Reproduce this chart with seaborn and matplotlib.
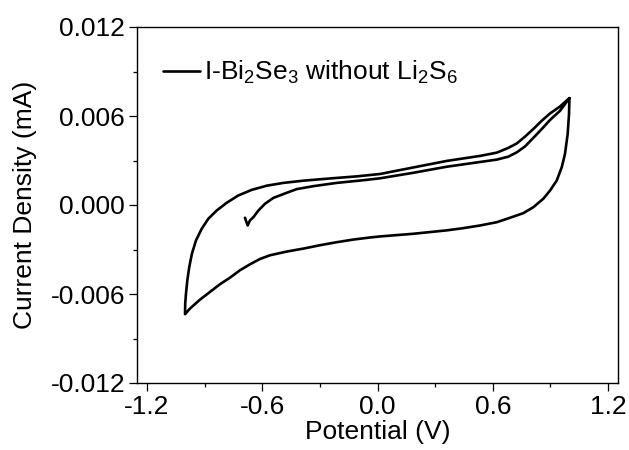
import numpy as np
import pandas as pd
import matplotlib
matplotlib.use("Agg")
import matplotlib.pyplot as plt
import seaborn as sns

# ---- data (Potential in V, Current density in mA) ----
# first anodic sweep (from start point to upper vertex)
sweep1_v = [-0.690, -0.676, -0.664, -0.646, -0.620, -0.586, -0.542, -0.473, -0.421,
            -0.334, -0.213, -0.074, 0.013, 0.186, 0.360, 0.534, 0.621, 0.681, 0.725,
            0.768, 0.811, 0.855, 0.898, 0.950, 0.999]
sweep1_i = [-0.00086, -0.00138, -0.00104, -0.00082, -0.00037, 0.00008, 0.00048, 0.00082, 0.00107,
            0.00127, 0.00149, 0.00167, 0.00180, 0.00217, 0.00258, 0.00290, 0.00306, 0.00326, 0.00355,
            0.00395, 0.00452, 0.00512, 0.00573, 0.00635, 0.00720]
# cathodic sweep (upper vertex to lower vertex)
sweep2_v = [0.997, 0.990, 0.976, 0.959, 0.933, 0.898, 0.863, 0.811, 0.759, 0.690, 0.621,
            0.534, 0.447, 0.360, 0.186, 0.013, -0.039, -0.126, -0.213, -0.299, -0.386,
            -0.473, -0.560, -0.612, -0.664, -0.716, -0.768, -0.820, -0.872, -0.924, -0.976, -1.002]
sweep2_i = [0.00613, 0.00479, 0.00344, 0.00254, 0.00165, 0.00097, 0.00042, -0.00015, -0.00055,
            -0.00086, -0.00116, -0.00138, -0.00156, -0.00171, -0.00194, -0.00212, -0.00219,
            -0.00233, -0.00251, -0.00271, -0.00294, -0.00314, -0.00339, -0.00364, -0.00400,
            -0.00440, -0.00490, -0.00534, -0.00586, -0.00638, -0.00698, -0.00736]
# second anodic sweep (lower vertex back to upper vertex)
sweep3_v = [-1.001, -0.997, -0.990, -0.980, -0.966, -0.945, -0.915, -0.881, -0.837, -0.785,
            -0.725, -0.655, -0.577, -0.490, -0.386, -0.247, -0.108, 0.013, 0.186, 0.360,
            0.534, 0.621, 0.681, 0.725, 0.768, 0.811, 0.855, 0.898, 0.950, 0.999]
sweep3_i = [-0.00664, -0.00597, -0.00508, -0.00418, -0.00328, -0.00239, -0.00160, -0.00093,
            -0.00037, 0.00015, 0.00064, 0.00102, 0.00130, 0.00149, 0.00164, 0.00179, 0.00193,
            0.00209, 0.00253, 0.00297, 0.00331, 0.00353, 0.00385, 0.00415, 0.00461, 0.00512,
            0.00568, 0.00617, 0.00664, 0.00721]

x_ticks = [-1.2, -0.6, 0.0, 0.6, 1.2]
x_tick_labels = ["-1.2", "-0.6", "0.0", "0.6", "1.2"]
y_ticks = [-0.012, -0.006, 0.0, 0.006, 0.012]
y_tick_labels = ["-0.012", "-0.006", "0.000", "0.006", "0.012"]
series_label = r"I-Bi$_2$Se$_3$ without Li$_2$S$_6$"

potential = sweep1_v + sweep2_v + sweep3_v
current = sweep1_i + sweep2_i + sweep3_i
df = pd.DataFrame({"Potential": potential, "Current": current,
                   "order": np.arange(len(potential)), "series": series_label})

sns.set_style("ticks")
plt.rcParams["font.family"] = ["Liberation Sans", "DejaVu Sans"]
plt.rcParams["mathtext.fontset"] = "custom"
plt.rcParams["mathtext.rm"] = "Liberation Sans"
plt.rcParams["mathtext.it"] = "Liberation Sans"
plt.rcParams["mathtext.bf"] = "Liberation Sans"
for k in ["text.color", "axes.labelcolor", "xtick.color", "ytick.color", "axes.edgecolor"]:
    plt.rcParams[k] = "black"

fig = plt.figure(figsize=(6.29, 4.5), dpi=100)
ax = fig.add_axes([137 / 629, 1 - 383 / 450, 481 / 629, 356 / 450])

sns.lineplot(data=df, x="Potential", y="Current", hue="series", sort=False,
             estimator=None, palette=["black"], linewidth=1.9, ax=ax)
ax.lines[0].set_solid_joinstyle("round")

ax.set_xlim(-1.252, 1.252)
ax.set_ylim(-0.012, 0.012)
ax.set_xticks(x_ticks)
ax.set_xticklabels(x_tick_labels)
ax.set_yticks(y_ticks)
ax.set_yticklabels(y_tick_labels)
ax.set_xticks([-0.9, -0.3, 0.3, 0.9], minor=True)
ax.set_yticks([-0.009, -0.003, 0.003, 0.009], minor=True)
ax.tick_params(which="major", direction="out", length=6, width=0.9, labelsize=19, pad=2.5,
               color="black", labelcolor="black")
ax.tick_params(which="minor", direction="out", length=3, width=0.9, color="black")
for s in ax.spines.values():
    s.set_visible(True)
    s.set_linewidth(1.0)
    s.set_color("black")

ax.set_xlabel("Potential (V)", fontsize=19, labelpad=1, color="black")
ax.set_ylabel("Current Density (mA)", fontsize=19, labelpad=10, color="black")

leg = ax.legend(loc="center left", bbox_to_anchor=(0.054, 0.872), frameon=False,
                fontsize=19, handlelength=1.4, handletextpad=0.15, borderpad=0,
                borderaxespad=0)
for line in leg.get_lines():
    line.set_linewidth(1.9)
for t in leg.get_texts():
    t.set_color("black")

fig.savefig("out.png", dpi=100)
